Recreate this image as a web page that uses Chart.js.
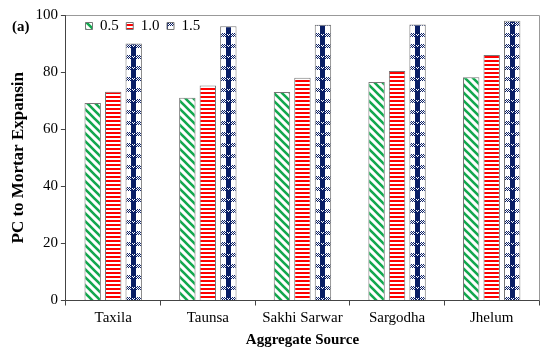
<!DOCTYPE html>
<html>
<head>
<meta charset="utf-8">
<script src="https://cdn.jsdelivr.net/npm/chart.js@4.4.0/dist/chart.umd.min.js"></script>
<style>
  html, body { margin: 0; padding: 0; background: #fff; }
  #wrap { width: 550px; height: 358px; }
</style>
</head>
<body>
<div id="wrap"><canvas id="chart"></canvas></div>
<script>
// data
const sources = ['Taxila', 'Taunsa', 'Sakhi Sarwar', 'Sargodha', 'Jhelum'];
const ratio05 = [69.2, 71.0, 73.0, 76.5, 78.2];
const ratio10 = [73.1, 75.3, 78.0, 80.4, 86.0];
const ratio15 = [90.0, 96.1, 96.6, 96.7, 98.0];
const seriesLabels = ['0.5', '1.0', '1.5'];
const yTicks = [0, 20, 40, 60, 80, 100];

const serif = '"Liberation Serif", "Times New Roman", serif';
const catPct = 0.65;
const barPct = 0.8;

// pattern tiles
function makeTile(w, h, draw) {
    const c = document.createElement('canvas');
    c.width = w;
    c.height = h;
    const g = c.getContext('2d');
    g.fillStyle = '#fff';
    g.fillRect(0, 0, w, h);
    draw(g, w, h);
    return c;
}

const greenTile = makeTile(8, 8, (g) => {
    g.strokeStyle = '#12a84e';
    g.lineWidth = 2.6;
    g.beginPath();
    [-8, 0, 8].forEach(x => {
        g.moveTo(x - 1, -1);
        g.lineTo(x + 9, 9);
    });
    g.stroke();
});

const redTile = makeTile(4, 4, (g) => {
    g.fillStyle = '#ff0000';
    g.fillRect(0, 0, 4, 2);
});

const navy = '#0a1f66';
const blueTile = makeTile(16, 11, (g) => {
    g.fillStyle = navy;
    // checked band
    for (let y = 0; y < 4; y++) {
        for (let x = 0; x < 16; x++) {
            if ((x + y) % 2 === 0) g.fillRect(x, y, 1, 1);
        }
    }
    // centre stripe
    g.fillRect(6, 0, 5, 11);
    g.fillStyle = '#fff';
    g.fillRect(7, 1, 1, 1);
    g.fillRect(9, 1, 1, 1);
    g.fillRect(8, 2, 1, 1);
});

const tiles = [greenTile, redTile, blueTile];

// one pattern per bar so the tile lines up with the bar
function barFill(dsIndex) {
    return (ctx) => {
        const pattern = ctx.chart.ctx.createPattern(tiles[dsIndex], 'repeat');
        if (ctx.type !== 'data' || !ctx.chart.scales.x) return pattern;
        const xs = ctx.chart.scales.x;
        const catW = xs.width / sources.length;
        const slot = catW * catPct / 3;
        const cx = xs.getPixelForValue(ctx.dataIndex) + (dsIndex - 1) * slot;
        const w = tiles[dsIndex].width;
        pattern.setTransform(new DOMMatrix().translate(Math.round(cx - w / 2 - 0.5), 0));
        return pattern;
    };
}

const seriesValues = [ratio05, ratio10, ratio15];

const framePlugin = {
    id: 'frame',
    beforeInit(chart) {
        // legend sits inside the plot, so it takes no layout room
        const fit = chart.legend.fit;
        chart.legend.fit = function () {
            fit.call(chart.legend);
            this.height = 0;
        };
    },
    afterLayout(chart) {
        const lg = chart.legend;
        lg.left = 78;
        lg.top = 11;
        lg.right = 320;
        lg.bottom = 48;
        lg.width = lg.right - lg.left;
        lg.height = lg.bottom - lg.top;
    },
    afterDraw(chart) {
        const { ctx, chartArea: a } = chart;
        ctx.save();
        ctx.strokeStyle = '#999';
        ctx.lineWidth = 1;
        ctx.beginPath();
        ctx.moveTo(a.left, Math.round(a.top) + 0.5);
        ctx.lineTo(Math.round(a.right) + 0.5, Math.round(a.top) + 0.5);
        ctx.lineTo(Math.round(a.right) + 0.5, a.bottom);
        ctx.stroke();
        ctx.font = 'bold 15px ' + serif;
        ctx.fillStyle = '#000';
        ctx.textBaseline = 'middle';
        ctx.fillText('(a)', 12, 27);
        ctx.restore();
    }
};

new Chart(document.getElementById('chart'), {
    type: 'bar',
    data: {
        labels: sources,
        datasets: seriesValues.map((vals, i) => ({
            label: seriesLabels[i],
            data: vals,
            backgroundColor: barFill(i),
            borderColor: '#777',
            borderWidth: 1,
            categoryPercentage: catPct,
            barPercentage: barPct
        }))
    },
    options: {
        responsive: true,
        maintainAspectRatio: false,
        animation: false,
        layout: { padding: { left: 4, right: 11, top: 15, bottom: 1.5 } },
        plugins: {
            legend: {
                position: 'top',
                align: 'start',
                labels: {
                    boxWidth: 7,
                    boxHeight: 7,
                    padding: 7.5,
                    color: '#000',
                    font: { family: serif, size: 15 }
                }
            },
            tooltip: { enabled: false }
        },
        scales: {
            x: {
                grid: { drawOnChartArea: false, tickLength: 5, color: '#444', offset: true },
                border: { color: '#444' },
                ticks: { color: '#000', padding: 4, maxRotation: 0, font: { family: serif, size: 15 } },
                title: {
                    display: true,
                    text: 'Aggregate Source',
                    color: '#000',
                    padding: { top: 0, bottom: 7 },
                    font: { family: serif, size: 15, weight: 'bold' }
                }
            },
            y: {
                min: 0,
                max: 100,
                afterBuildTicks: (axis) => { axis.ticks = yTicks.map(v => ({ value: v })); },
                grid: { drawOnChartArea: false, tickLength: 5, color: '#444' },
                border: { color: '#444' },
                ticks: { color: '#000', padding: 3, font: { family: serif, size: 15 } },
                title: {
                    display: true,
                    text: 'PC to Mortar Expansin',
                    color: '#000',
                    padding: { top: 4, bottom: 4 },
                    font: { family: serif, size: 17, weight: 'bold' }
                }
            }
        }
    },
    plugins: [framePlugin]
});
</script>
</body>
</html>
